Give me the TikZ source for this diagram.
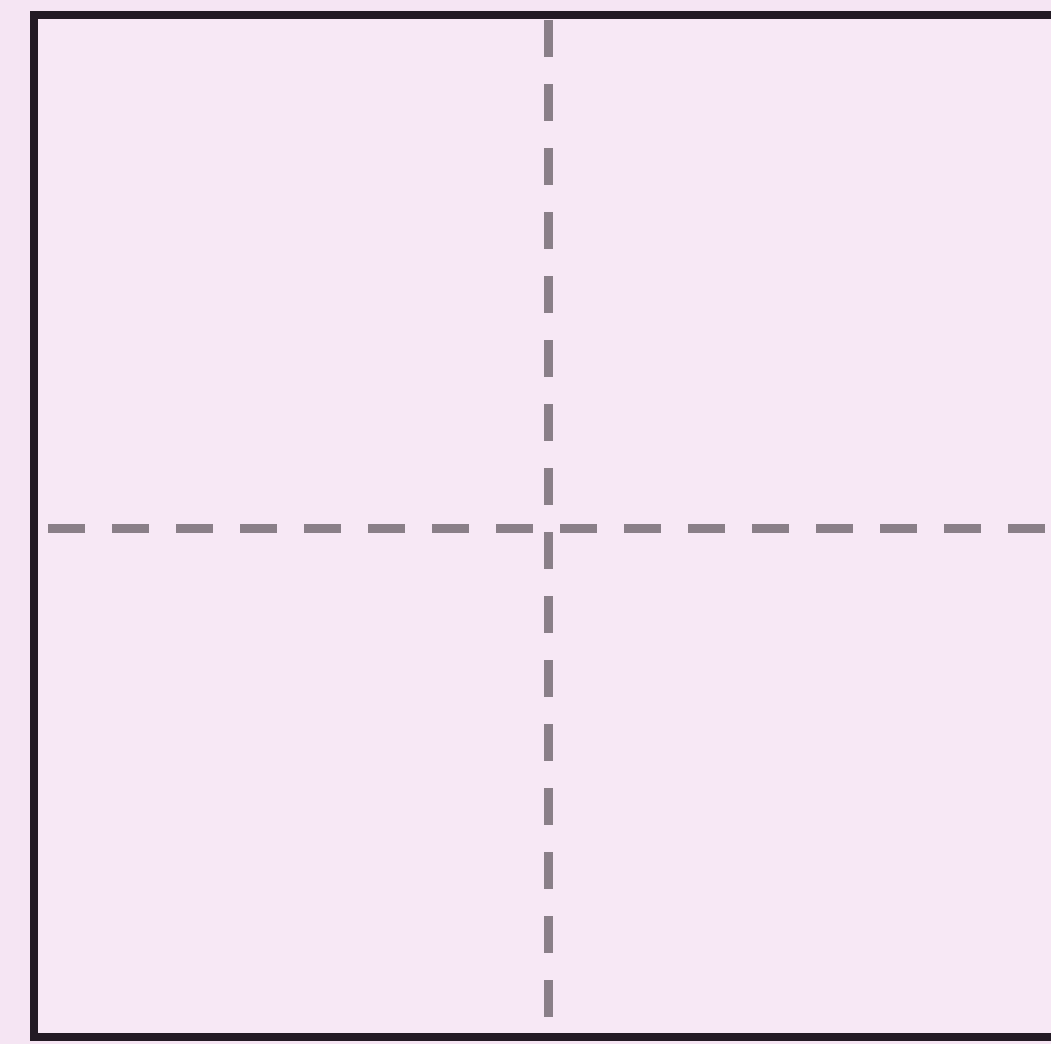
\documentclass[tikz,border=0pt]{standalone}
\definecolor{bgpink}{HTML}{F5E5F3}
\definecolor{innerpink}{HTML}{F7E8F5}
\definecolor{frame}{HTML}{231A24}
\definecolor{dashgray}{HTML}{8A7F88}
\tikzset{
  frameline/.style={draw=frame, line width=8pt},
  guideline/.style={draw=dashgray, line width=9pt, dash pattern=on 37pt off 27pt}
}
\begin{document}
\begin{tikzpicture}[x=1pt,y=-1pt]
\useasboundingbox (0,0) rectangle (1051,1044);
\clip (0,0) rectangle (1051,1044);
\fill[bgpink] (0,0) rectangle (1051,1044);
\fill[innerpink] (34,15) rectangle (1070,1037);
\draw[frameline] (1070,15) -- (34,15) -- (34,1037) -- (1070,1037);
\draw[guideline] (548,20) -- (548,1020);
\draw[guideline] (48,528) -- (1070,528);
\end{tikzpicture}
\end{document}
